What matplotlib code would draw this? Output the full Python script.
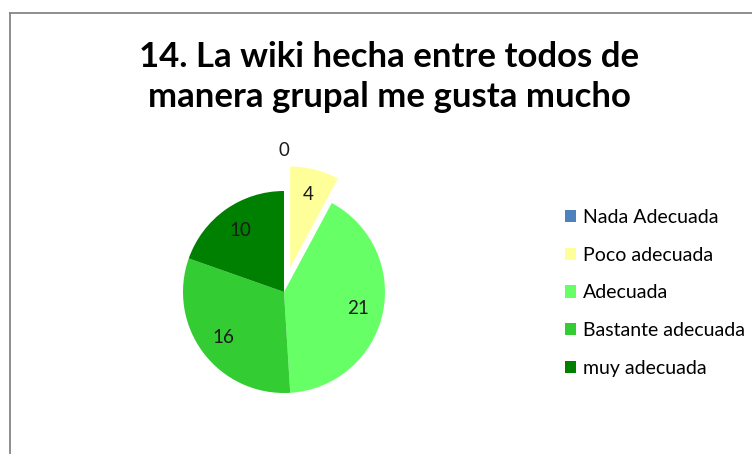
import matplotlib.pyplot as plt
from matplotlib.lines import Line2D

categories = ["Nada Adecuada", "Poco adecuada", "Adecuada", "Bastante adecuada", "muy adecuada"]
values = [0, 4, 21, 16, 10]
colors = ["#4F81BD", "#FFFF99", "#66FF66", "#33CC33", "#008000"]
explode = [0, 0.25, 0, 0, 0]
title = "14. La wiki hecha entre todos de\nmanera grupal me gusta mucho"

plt.rcParams["font.family"] = ["Lato", "DejaVu Sans"]

W, H = 752, 454
fig = plt.figure(figsize=(W / 100, H / 100), dpi=100)

# chart border (gray line, open on right and bottom)
fig.add_artist(Line2D([9.5 / W, 1.0], [1 - 12.5 / H, 1 - 12.5 / H], color="#868686", lw=1.3))
fig.add_artist(Line2D([9.5 / W, 9.5 / W], [0.0, 1 - 12.5 / H], color="#868686", lw=1.3))

fig.text(389 / W, 1 - 77 / H, title, ha="center", va="center", fontsize=25,
         fontweight="bold", linespacing=1.32)

cx, cy, r = 284, 292, 101
ax = fig.add_axes([(cx - 1.5 * r) / W, (H - cy - 1.5 * r) / H, 3 * r / W, 3 * r / H])

it = iter(values)
wedges, texts, autotexts = ax.pie(
    values, colors=colors, explode=explode, startangle=90, counterclock=False,
    autopct=lambda p: str(next(it)), pctdistance=0.75,
    wedgeprops=dict(linewidth=0), textprops=dict(fontsize=13.5, color="#1a1a1a"),
)
# zero-value label sits above the pie
for v, t in zip(values, autotexts):
    if v == 0:
        t.set_position((0, 1.4))
ax.set_xlim(-1.5, 1.5)
ax.set_ylim(-1.5, 1.5)
ax.set_aspect("equal")
ax.axis("off")

ax.legend(wedges, categories, loc="upper left",
          bbox_to_anchor=(551 / W, 1 - 195.5 / H), bbox_transform=fig.transFigure,
          frameon=False, fontsize=14, handlelength=0.6, handleheight=0.6,
          handletextpad=0.35, labelspacing=1.06, borderpad=0.2)

fig.savefig("out.png", dpi=100)
